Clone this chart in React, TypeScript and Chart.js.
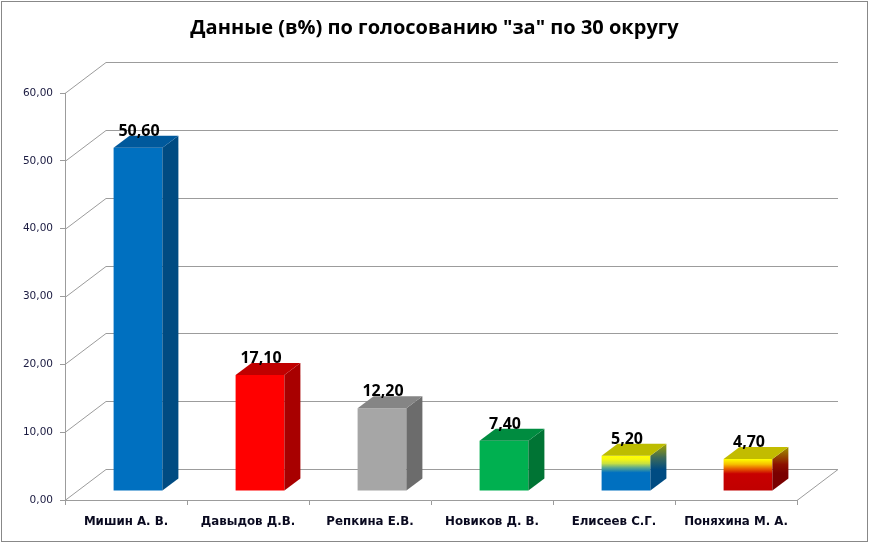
import React, { useEffect, useRef } from "react";
import { Chart, registerables } from "chart.js";

Chart.register(...registerables);

const titleText = 'Данные (в%) по голосованию "за" по 30 округу';
const categories = [
  "Мишин А. В.",
  "Давыдов Д.В.",
  "Репкина Е.В.",
  "Новиков Д. В.",
  "Елисеев С.Г.",
  "Поняхина М. А.",
];
const values = [50.6, 17.1, 12.2, 7.4, 5.2, 4.7];
const yMin = 0;
const yMax = 60;
const yStep = 10;

type Stops = [number, string][];
const frontFill: Stops[] = [
  [[0, "#0070C0"]],
  [[0, "#FF0000"]],
  [[0, "#A6A6A6"]],
  [[0, "#00B050"]],
  [[0, "#FFFF00"], [0.1, "#F6F810"], [0.22, "#C8E040"], [0.34, "#5AA890"], [0.48, "#0070C0"], [1, "#0070C0"]],
  [[0, "#FFFF00"], [0.16, "#F6C000"], [0.3, "#E86000"], [0.46, "#C80000"], [1, "#C00000"]],
];
const topFill = ["#00599C", "#C00000", "#858585", "#008C40", "#BDBD00", "#C2BC00"];
const sideFill: Stops[] = [
  [[0, "#004B82"]],
  [[0, "#A80000"]],
  [[0, "#6C6C6C"]],
  [[0, "#007434"]],
  [[0, "#A0A000"], [0.3, "#3C6A5A"], [0.55, "#004B82"], [1, "#004B82"]],
  [[0, "#A09000"], [0.4, "#8C1000"], [0.6, "#7A0000"], [1, "#7A0000"]],
];

const WALL_DX = 41;
const WALL_DY = -31;
const BAR_SHIFT_X = 12;
const BAR_SHIFT_Y = -9;
const BAR_DX = 16;
const BAR_DY = -12;
const GRID = "#9C9C9C";

function makeFill(ctx: CanvasRenderingContext2D, stops: Stops, top: number, bottom: number) {
  if (stops.length === 1) return stops[0][1];
  const g = ctx.createLinearGradient(0, top, 0, bottom);
  stops.forEach(([o, c]) => g.addColorStop(o, c));
  return g;
}

const fmt = (v: number) => v.toFixed(2).replace(".", ",");

const plugin3d = {
  id: "plugin3d",
  beforeDraw(chart: any) {
    const ctx = chart.ctx;
    ctx.save();
    ctx.fillStyle = "#FFFFFF";
    ctx.fillRect(0, 0, chart.width, chart.height);
    ctx.strokeStyle = "#888888";
    ctx.lineWidth = 1;
    ctx.strokeRect(1.5, 1.5, chart.width - 3, chart.height - 3);
    ctx.restore();
  },
  beforeDatasetsDraw(chart: any) {
    const ctx = chart.ctx;
    const y = chart.scales.y;
    const { left, right, bottom } = chart.chartArea;
    ctx.save();
    ctx.strokeStyle = GRID;
    ctx.lineWidth = 1;
    y.ticks.forEach((t: any) => {
      const py = Math.round(y.getPixelForValue(t.value)) + 0.5;
      ctx.beginPath();
      ctx.moveTo(left, py);
      ctx.lineTo(left + WALL_DX, py + WALL_DY);
      ctx.lineTo(right + WALL_DX, py + WALL_DY);
      ctx.stroke();
    });
    const pb = Math.round(bottom) + 0.5;
    ctx.beginPath();
    ctx.moveTo(right, pb);
    ctx.lineTo(right + WALL_DX, pb + WALL_DY);
    ctx.stroke();
    ctx.restore();
    ctx.save();
    ctx.translate(BAR_SHIFT_X, BAR_SHIFT_Y);
  },
  afterDatasetsDraw(chart: any) {
    const ctx = chart.ctx;
    const meta = chart.getDatasetMeta(0);
    meta.data.forEach((el: any, i: number) => {
      const { x, y, base, width } = el.getProps(["x", "y", "base", "width"], true);
      const l = x - width / 2;
      const r = x + width / 2;
      ctx.beginPath();
      ctx.moveTo(r, y);
      ctx.lineTo(r + BAR_DX, y + BAR_DY);
      ctx.lineTo(r + BAR_DX, base + BAR_DY);
      ctx.lineTo(r, base);
      ctx.closePath();
      ctx.fillStyle = makeFill(ctx, sideFill[i], y + BAR_DY, base);
      ctx.fill();
      ctx.beginPath();
      ctx.moveTo(l, y);
      ctx.lineTo(l + BAR_DX, y + BAR_DY);
      ctx.lineTo(r + BAR_DX, y + BAR_DY);
      ctx.lineTo(r, y);
      ctx.closePath();
      ctx.fillStyle = topFill[i];
      ctx.fill();
    });
    ctx.fillStyle = "#000000";
    ctx.font = "bold 16px 'Open Sans'";
    ctx.textAlign = "center";
    ctx.textBaseline = "alphabetic";
    meta.data.forEach((el: any, i: number) => {
      const { x, y } = el.getProps(["x", "y"], true);
      ctx.fillText(fmt(values[i]), x + 1, y - 12);
    });
    ctx.restore();
  },
};

export default function App() {
  const ref = useRef<HTMLCanvasElement | null>(null);
  useEffect(() => {
    document.body.style.margin = "0";
    const canvas = ref.current;
    if (!canvas) return;
    const chart = new Chart(canvas, {
      type: "bar",
      data: {
        labels: categories,
        datasets: [
          {
            data: values,
            borderWidth: 0,
            backgroundColor: (c: any) => {
              const i = c.dataIndex ?? 0;
              const ys = c.chart.scales?.y;
              if (!ys) return frontFill[i][0][1];
              const top = ys.getPixelForValue(values[i]);
              const bot = ys.getPixelForValue(0);
              return makeFill(c.chart.ctx, frontFill[i], top, bot);
            },
            barPercentage: 1,
            categoryPercentage: 0.4,
            clip: false as any,
          },
        ],
      },
      options: {
        responsive: false,
        animation: false,
        devicePixelRatio: 1,
        layout: { padding: { left: 0, right: 0, top: 0, bottom: 0 } },
        plugins: {
          legend: { display: false },
          tooltip: { enabled: false },
          title: {
            display: true,
            text: titleText,
            color: "#000000",
            font: { family: "'Open Sans'", size: 20, weight: "bold", lineHeight: 1.2 },
            padding: { top: 16, bottom: 53 },
          },
        },
        scales: {
          x: {
            afterFit: (s: any) => {
              s.height = 43;
            },
            grid: { display: true, drawOnChartArea: false, drawTicks: true, tickLength: 5, color: GRID },
            border: { display: true, color: GRID },
            ticks: {
              color: "#0A0A20",
              font: { family: "'DejaVu Sans'", size: 11.8, weight: "bold" },
              padding: 10,
              maxRotation: 0,
              autoSkip: false,
            },
          },
          y: {
            min: yMin,
            max: yMax,
            afterFit: (s: any) => {
              s.width = 65;
            },
            grid: { display: true, drawOnChartArea: false, drawTicks: true, tickLength: 5, color: GRID },
            border: { display: true, color: GRID },
            ticks: {
              stepSize: yStep,
              color: "#1A1A40",
              font: { family: "'DejaVu Sans'", size: 10.5 },
              padding: 7,
              callback: (v: any) => fmt(Number(v)),
            },
          },
          yRight: {
            position: "right",
            min: yMin,
            max: yMax,
            afterFit: (s: any) => {
              s.width = 72;
            },
            grid: { display: false },
            border: { display: false },
            ticks: { display: false },
          },
        },
      },
      plugins: [plugin3d],
    });
    return () => chart.destroy();
  }, []);
  return (
    <div style={{ position: "absolute", left: 0, top: 0, width: 869, height: 543 }}>
      <canvas ref={ref} width={869} height={543} style={{ width: 869, height: 543, display: "block" }} />
    </div>
  );
}
